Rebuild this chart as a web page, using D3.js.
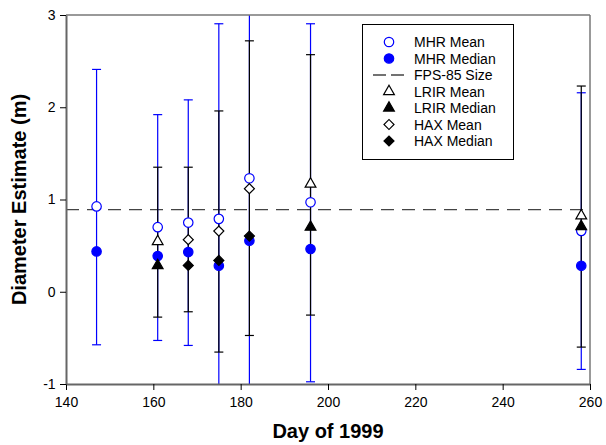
<!DOCTYPE html>
<html>
<head>
<meta charset="utf-8">
<script src="https://cdn.jsdelivr.net/npm/d3@7"></script>
<style>
  body { margin: 0; background: #fff; }
  text { font-family: Arial, "Liberation Sans", sans-serif; }
</style>
</head>
<body>
<div id="chart-area"></div>
<script>
'use strict';
const svg_width = 606;
const svg_height = 445;
const margin = {left: 66, right: 16, top: 15, bottom: 61};

// MHR (all days)
const mhr_days = [147, 161, 168, 175, 182, 196, 258];
const mhr_mean = [0.925, 0.70, 0.75, 0.79, 1.23, 0.97, 0.66];
const mhr_median = [0.437, 0.387, 0.43, 0.282, 0.553, 0.463, 0.282];
const mhr_low = [-0.575, -0.528, -0.582, -1.2, -1.2, -0.976, -0.842];
const mhr_high = [2.41, 1.92, 2.08, 2.905, 3.2, 2.905, 2.157];
// LRIR
const lrir_days = [161, 196, 258];
const lrir_mean = [0.545, 1.168, 0.824];
const lrir_median = [0.285, 0.701, 0.708];
const lrir_low = [-0.275, -0.253, -0.60];
const lrir_high = [1.35, 2.57, 2.23];
// HAX
const hax_days = [168, 175, 182];
const hax_mean = [0.564, 0.658, 1.117];
const hax_median = [0.285, 0.34, 0.604];
const hax_low = [-0.217, -0.654, -0.474];
const hax_high = [1.35, 1.96, 2.72];

const fps85_size = 0.89;
const x_ticks = [140, 160, 180, 200, 220, 240, 260];
const y_ticks = [-1, 0, 1, 2, 3];
const legend_labels = ['MHR Mean', 'MHR Median', 'FPS-85 Size', 'LRIR Mean', 'LRIR Median', 'HAX Mean', 'HAX Median'];

const svg = d3.select('#chart-area')
  .append('svg')
    .attr('width', svg_width)
    .attr('height', svg_height);

const x_scale = d3.scaleLinear()
  .domain([140, 260])
  .range([margin.left, svg_width - margin.right]);
const y_scale = d3.scaleLinear()
  .domain([-1, 3])
  .range([svg_height - margin.bottom, margin.top]);

svg.append('clipPath').attr('id', 'clip')
  .append('rect')
    .attr('x', margin.left).attr('y', margin.top)
    .attr('width', svg_width - margin.left - margin.right)
    .attr('height', svg_height - margin.top - margin.bottom);

const plot = svg.append('g').attr('clip-path', 'url(#clip)');

// FPS-85 reference line
plot.append('line')
  .attr('x1', x_scale(140)).attr('x2', x_scale(260))
  .attr('y1', y_scale(fps85_size)).attr('y2', y_scale(fps85_size))
  .attr('stroke', '#444').attr('stroke-width', 1.3)
  .attr('stroke-dasharray', '13,8');

const zip = (days, a, b) => days.map((d, i) => ({day: d, lo: a[i], hi: b[i]}));

function error_bars(data, color) {
  const g = plot.append('g').attr('stroke', color).attr('stroke-width', 1.2);
  g.selectAll('line.v').data(data).enter().append('line')
    .attr('x1', d => x_scale(d.day)).attr('x2', d => x_scale(d.day))
    .attr('y1', d => y_scale(d.lo)).attr('y2', d => y_scale(d.hi));
  ['lo', 'hi'].forEach(k => {
    g.selectAll('line.' + k).data(data).enter().append('line')
      .attr('x1', d => x_scale(d.day) - 4.5).attr('x2', d => x_scale(d.day) + 4.5)
      .attr('y1', d => y_scale(d[k])).attr('y2', d => y_scale(d[k]));
  });
}

error_bars(zip(mhr_days, mhr_low, mhr_high), '#0000ff');
error_bars(zip(lrir_days, lrir_low, lrir_high), '#000');
error_bars(zip(hax_days, hax_low, hax_high), '#000');

const sym = {
  circle: d3.symbol().type(d3.symbolCircle).size(70),
  triangle: d3.symbol().type(d3.symbolTriangle).size(50),
  diamond: d3.symbol().type(d3.symbolSquare).size(50)
};

function points(days, vals, shape, color, filled) {
  plot.append('g').selectAll('path').data(days.map((d, i) => ({day: d, v: vals[i]}))).enter()
    .append('path')
      .attr('d', sym[shape])
      .attr('transform', d => `translate(${x_scale(d.day)},${y_scale(d.v)})` + (shape === 'diamond' ? ' rotate(45)' : ''))
      .attr('fill', filled ? color : '#fff')
      .attr('stroke', color)
      .attr('stroke-width', 1.2);
}

points(mhr_days, mhr_mean, 'circle', '#0000ff', false);
points(mhr_days, mhr_median, 'circle', '#0000ff', true);
points(lrir_days, lrir_mean, 'triangle', '#000', false);
points(lrir_days, lrir_median, 'triangle', '#000', true);
points(hax_days, hax_mean, 'diamond', '#000', false);
points(hax_days, hax_median, 'diamond', '#000', true);

// frame
svg.append('line')
  .attr('x1', x_scale(140)).attr('x2', x_scale(260))
  .attr('y1', y_scale(3)).attr('y2', y_scale(3))
  .attr('stroke', '#777').attr('stroke-width', 1.5);
svg.append('line')
  .attr('x1', x_scale(260)).attr('x2', x_scale(260))
  .attr('y1', y_scale(3)).attr('y2', y_scale(-1))
  .attr('stroke', '#777').attr('stroke-width', 1.5);

const x_axis = d3.axisBottom(x_scale).tickValues(x_ticks).tickSize(6).tickSizeOuter(0)
  .tickFormat(d => String(d));
const y_axis = d3.axisLeft(y_scale).tickValues(y_ticks).tickSize(6).tickSizeOuter(0)
  .tickFormat(d => String(d));

const gx = svg.append('g')
  .attr('transform', `translate(0,${y_scale(-1)})`)
  .call(x_axis);
const gy = svg.append('g')
  .attr('transform', `translate(${x_scale(140)},0)`)
  .call(y_axis);
[gx, gy].forEach(g => {
  g.select('.domain').attr('stroke', '#666').attr('stroke-width', 2);
  g.selectAll('.tick line').attr('stroke', '#000');
  g.selectAll('.tick text').attr('font-size', 14).attr('font-family', 'Arial, "Liberation Sans", sans-serif').attr('fill', '#000');
});
gx.selectAll('.tick text').attr('dy', '1.0em');
gy.selectAll('.tick text').attr('dx', '-0.1em');

svg.append('text')
  .attr('x', (x_scale(140) + x_scale(260)) / 2).attr('y', 438)
  .attr('text-anchor', 'middle').attr('font-size', 20).attr('font-weight', 'bold')
  .text('Day of 1999');
svg.append('text')
  .attr('transform', `translate(26,${(y_scale(-1) + y_scale(3)) / 2}) rotate(-90)`)
  .attr('text-anchor', 'middle').attr('font-size', 20).attr('font-weight', 'bold')
  .text('Diameter Estimate (m)');

// legend
const lg = svg.append('g');
lg.append('rect')
  .attr('x', 362.5).attr('y', 24.5).attr('width', 151).attr('height', 135)
  .attr('fill', '#fff').attr('stroke', '#000').attr('stroke-width', 1);
const legend_syms = [
  {shape: 'circle', color: '#0000ff', filled: false},
  {shape: 'circle', color: '#0000ff', filled: true},
  {shape: 'line'},
  {shape: 'triangle', color: '#000', filled: false},
  {shape: 'triangle', color: '#000', filled: true},
  {shape: 'diamond', color: '#000', filled: false},
  {shape: 'diamond', color: '#000', filled: true}
];
legend_labels.forEach((lab, i) => {
  const y = 42 + i * 16.5;
  const s = legend_syms[i];
  if (s.shape === 'line') {
    lg.append('line')
      .attr('x1', 373).attr('x2', 405).attr('y1', y).attr('y2', y)
      .attr('stroke', '#444').attr('stroke-width', 1.3)
      .attr('stroke-dasharray', '13,5');
  } else {
    lg.append('path')
      .attr('d', sym[s.shape])
      .attr('transform', `translate(389,${y})` + (s.shape === 'diamond' ? ' rotate(45)' : ''))
      .attr('fill', s.filled ? s.color : '#fff')
      .attr('stroke', s.color).attr('stroke-width', 1.2);
  }
  lg.append('text')
    .attr('x', 414).attr('y', y).attr('dy', '0.36em')
    .attr('font-size', 14)
    .text(lab);
});
</script>
</body>
</html>
